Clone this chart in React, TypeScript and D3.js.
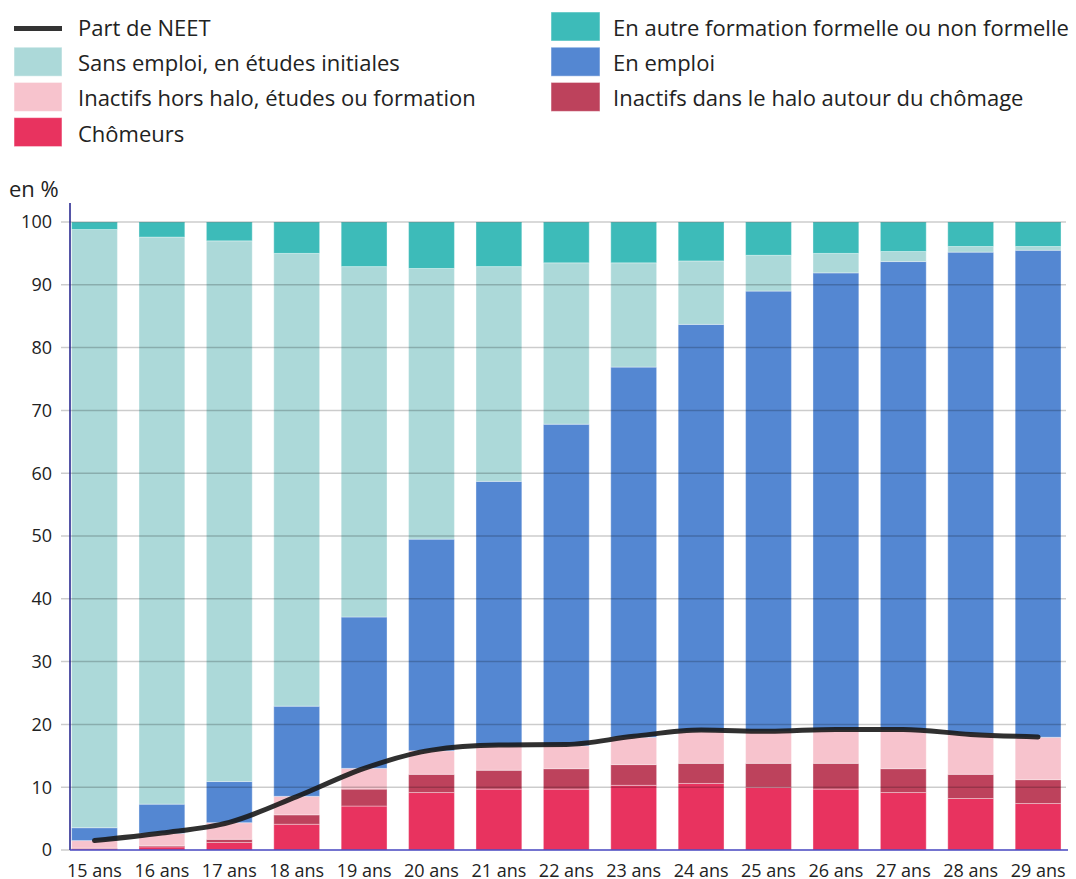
import React from "react";
import * as d3 from "d3";

const ages = ["15 ans","16 ans","17 ans","18 ans","19 ans","20 ans","21 ans","22 ans","23 ans","24 ans","25 ans","26 ans","27 ans","28 ans","29 ans"];

// stacked from bottom to top
const chomeurs = [0.2, 0.5, 1.2, 4.1, 7.0, 9.15, 9.7, 9.7, 10.3, 10.6, 10.0, 9.7, 9.15, 8.2, 7.4];
const halo = [0.1, 0.2, 0.5, 1.5, 2.7, 2.9, 3.0, 3.25, 3.3, 3.2, 3.8, 4.1, 3.8, 3.85, 3.8];
const horsHalo = [1.2, 1.95, 2.65, 2.95, 3.3, 3.75, 3.8, 3.65, 4.35, 5.05, 5.1, 5.3, 6.15, 6.45, 6.75];
const enEmploi = [2.05, 4.65, 6.55, 14.35, 24.1, 33.7, 42.2, 51.2, 58.95, 64.85, 70.1, 72.8, 74.6, 76.7, 77.55];
const etudes = [95.25, 90.3, 86.1, 72.1, 55.8, 43.1, 34.2, 25.7, 16.6, 10.1, 5.7, 3.1, 1.6, 0.9, 0.6];
const autreFormation = [1.2, 2.4, 3.0, 5.0, 7.1, 7.4, 7.1, 6.5, 6.5, 6.2, 5.3, 5.0, 4.7, 3.9, 3.9];

const partNeet = [1.5, 2.7, 4.4, 8.5, 13.0, 15.9, 16.7, 16.8, 18.1, 19.1, 18.9, 19.2, 19.2, 18.4, 18.0];

const yTicks = [0, 10, 20, 30, 40, 50, 60, 70, 80, 90, 100];

const seriesNames = [
  "Chômeurs",
  "Inactifs dans le halo autour du chômage",
  "Inactifs hors halo, études ou formation",
  "En emploi",
  "Sans emploi, en études initiales",
  "En autre formation formelle ou non formelle",
];
const seriesValues = [chomeurs, halo, horsHalo, enEmploi, etudes, autreFormation];
const seriesColors = ["#e8335f", "#bd425c", "#f7c3cd", "#5487d2", "#acd9d9", "#3dbbb9"];

const W = 1076;
const H = 879;
const left = 70;
const right = 1066;
const top = 222;
const bottom = 850;
const FONT = "'Open Sans', 'Noto Sans', sans-serif";

export default function App() {
  const x = d3
    .scaleBand<string>()
    .domain(ages)
    .range([60.8, 1071.8])
    .paddingInner(0.32)
    .paddingOuter(0.16);
  const y = d3.scaleLinear().domain([0, 100]).range([bottom, top]);

  const table = ages.map((a, i) => {
    const row: any = { age: a };
    seriesNames.forEach((n, k) => (row[n] = seriesValues[k][i]));
    return row;
  });
  const stack = d3.stack<any>().keys(seriesNames)(table);

  const line = d3
    .line<number>()
    .x((_, i) => (x(ages[i]) as number) + x.bandwidth() / 2)
    .y((d) => y(d))
    .curve(d3.curveMonotoneX);

  const legendLeft = [
    { type: "line", name: "Part de NEET", color: "#333" },
    { type: "rect", name: "Sans emploi, en études initiales", color: seriesColors[4] },
    { type: "rect", name: "Inactifs hors halo, études ou formation", color: seriesColors[2] },
    { type: "rect", name: "Chômeurs", color: seriesColors[0] },
  ];
  const legendRight = [
    { type: "rect", name: "En autre formation formelle ou non formelle", color: seriesColors[5] },
    { type: "rect", name: "En emploi", color: seriesColors[3] },
    { type: "rect", name: "Inactifs dans le halo autour du chômage", color: seriesColors[1] },
  ];
  const rowY = (i: number) => 26.5 + i * 35.2;

  return (
    <svg
      width={W}
      height={H}
      style={{ position: "absolute", left: 0, top: 0, background: "#fff" }}
      fontFamily={FONT}
    >
      {/* legend */}
      {legendLeft.map((l, i) => (
        <g key={l.name}>
          {l.type === "line" ? (
            <line x1={14} x2={62} y1={rowY(i) + 2} y2={rowY(i) + 2} stroke={l.color} strokeWidth={5} />
          ) : (
            <rect x={14} y={rowY(i) - 14.5} width={48} height={29} fill={l.color} stroke="#fff" strokeOpacity={0.5} />
          )}
          <text x={78} y={rowY(i) + 9.5} fontSize={22} fill="#222">
            {l.name}
          </text>
        </g>
      ))}
      {legendRight.map((l, i) => (
        <g key={l.name}>
          <rect x={551} y={rowY(i) - 14.5} width={49} height={29} fill={l.color} stroke="#fff" strokeOpacity={0.5} />
          <text x={613} y={rowY(i) + 9.5} fontSize={22} fill="#222">
            {l.name}
          </text>
        </g>
      ))}

      <text x={9} y={197} fontSize={22} fill="#222">
        en %
      </text>

      {/* bars */}
      {stack.map((s, k) => (
        <g key={s.key} fill={seriesColors[k]}>
          {s.map((d, i) => (
            <rect
              key={i}
              x={x(ages[i])}
              width={x.bandwidth()}
              y={y(d[1])}
              height={Math.max(0, y(d[0]) - y(d[1]))}
              stroke="#fff"
              strokeOpacity={0.35}
              strokeWidth={1}
            />
          ))}
        </g>
      ))}

      {/* gridlines over bars */}
      {yTicks.map((t) => (
        <g key={t}>
          {t > 0 && (
            <line x1={61} x2={right} y1={y(t)} y2={y(t)} stroke="#000" strokeOpacity={0.2} strokeWidth={1.5} />
          )}
          <text x={52} y={y(t)} dy="0.35em" textAnchor="end" fontSize={18} fill="#222">
            {t}
          </text>
        </g>
      ))}
      <line x1={61} x2={left} y1={y(0)} y2={y(0)} stroke="#000" strokeOpacity={0.2} strokeWidth={1.5} />

      {/* axes */}
      <line x1={left} x2={left} y1={203} y2={bottom} stroke="#1d1d8a" strokeWidth={1.5} />
      <line x1={left} x2={right + 2} y1={bottom} y2={bottom} stroke="#4646c0" strokeWidth={1.5} />

      {ages.map((a) => (
        <text
          key={a}
          x={(x(a) as number) + x.bandwidth() / 2}
          y={877}
          textAnchor="middle"
          fontSize={18}
          fill="#222"
        >
          {a}
        </text>
      ))}

      {/* NEET line */}
      <path d={line(partNeet) as string} fill="none" stroke="#1a1a1a" strokeOpacity={0.9} strokeWidth={5} strokeLinecap="round" strokeLinejoin="round" />
    </svg>
  );
}
